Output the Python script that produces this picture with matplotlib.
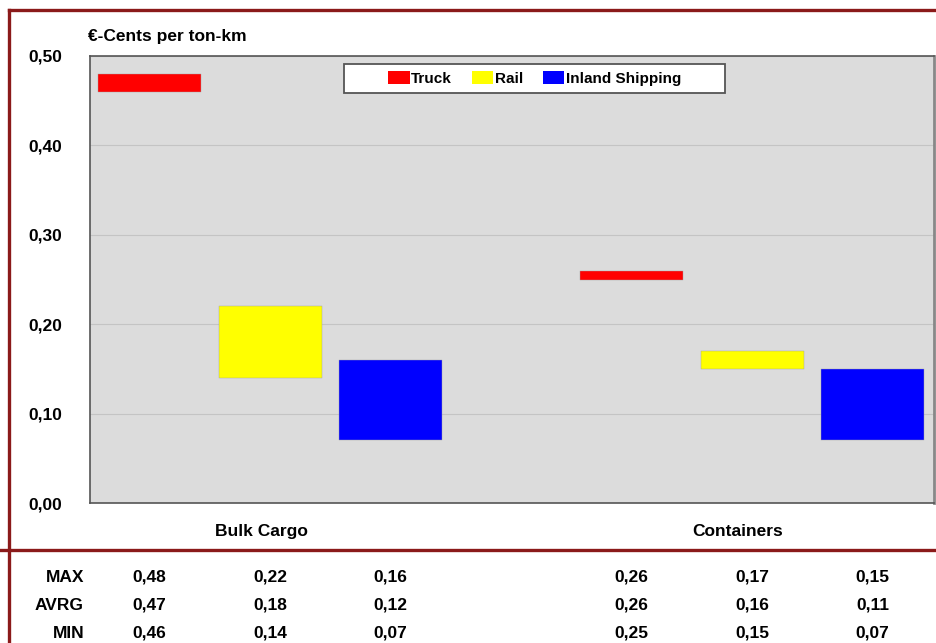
import matplotlib.pyplot as plt
from matplotlib.lines import Line2D
from matplotlib.patches import Patch, Rectangle

plt.rcParams['font.family'] = ['Liberation Sans', 'DejaVu Sans']

# slots: 3 modes for bulk cargo, gap, 3 modes for containers
modes = ["Truck", "Rail", "Inland Shipping"]
colors = ["#ff0000", "#ffff00", "#0000ff"]
slots = [0, 1, 2, 4, 5, 6]
bar_modes = [0, 1, 2, 0, 1, 2]
cost_max = [0.48, 0.22, 0.16, 0.26, 0.17, 0.15]
cost_avg = [0.47, 0.18, 0.12, 0.26, 0.16, 0.11]
cost_min = [0.46, 0.14, 0.07, 0.25, 0.15, 0.07]
groups = ["Bulk Cargo", "Containers"]
yticks = [0.0, 0.1, 0.2, 0.3, 0.4, 0.5]

fig = plt.figure(figsize=(9.36, 6.43), dpi=100)
W, H = 936, 643
ax = fig.add_axes([90 / W, 1 - 503 / H, 844 / W, 447 / H])
ax.set_facecolor("#dcdcdc")

for s, m, lo, hi in zip(slots, bar_modes, cost_min, cost_max):
    ax.bar(s, hi - lo, bottom=lo, width=0.855, color=colors[m],
           edgecolor="#a0a0a0", linewidth=0.3, zorder=3)

ax.set_xlim(-0.495, 6.51)
ax.set_ylim(0, 0.5)
ax.set_yticks(yticks)
ax.set_yticklabels([f"{v:.2f}".replace(".", ",") for v in yticks],
                   fontsize=12.5, fontweight="bold")
ax.yaxis.grid(True, color="#c4c4c4", linewidth=0.8, zorder=0)
ax.set_axisbelow(True)
ax.tick_params(axis="y", length=0, pad=20)
ax.set_xticks([0.93, 4.88])
ax.set_xticklabels(groups, fontsize=12.5, fontweight="bold")
ax.tick_params(axis="x", length=0, pad=15)
for side in ["left", "bottom", "top"]:
    ax.spines[side].set_color("#555555")
    ax.spines[side].set_linewidth(1.2)
ax.spines["right"].set_color("#888888")
ax.spines["right"].set_linewidth(2)

# legend box drawn separately so the entries stay centred in a wide frame
ax.add_patch(Rectangle((0.301, 0.917), 0.451, 0.065, transform=ax.transAxes,
                       facecolor="white", edgecolor="#555555", linewidth=1.3,
                       zorder=4))
handles = [Patch(facecolor=c, edgecolor="none") for c in colors]
ax.legend(handles, modes, ncol=3, loc="center",
          bbox_to_anchor=(0.5267, 0.9495), frameon=False,
          prop={"weight": "bold", "size": 11}, handlelength=1.4,
          handleheight=0.85, handletextpad=0.1, columnspacing=1.3)

fig.text(88 / W, 1 - 37 / H, "€-Cents per ton-km", fontsize=12.5,
         fontweight="bold", va="center", ha="left")

# value table under the chart, all cells share one baseline per row
rows = [("MAX", cost_max, 582), ("AVRG", cost_avg, 610), ("MIN", cost_min, 638)]
for label, vals, ypix in rows:
    y = 1 - ypix / H
    fig.text(84 / W, y, label, fontsize=12.5, fontweight="bold",
             ha="right", va="baseline")
    for s, v in zip(slots, vals):
        xpix = 90 + (s + 0.495) / (6.51 + 0.495) * 844
        fig.text(xpix / W, y, f"{v:.2f}".replace(".", ","), fontsize=12.5,
                 fontweight="bold", ha="center", va="baseline")

# dark red frame lines
red = "#8b1a1a"
fig.add_artist(Line2D([9 / W, 1], [1 - 10 / H, 1 - 10 / H], color=red, lw=2.4))
fig.add_artist(Line2D([9 / W, 9 / W], [0, 1 - 10 / H], color=red, lw=2.4))
fig.add_artist(Line2D([0, 1], [1 - 550 / H, 1 - 550 / H], color=red, lw=2.4))

fig.savefig("out.png", dpi=100)
